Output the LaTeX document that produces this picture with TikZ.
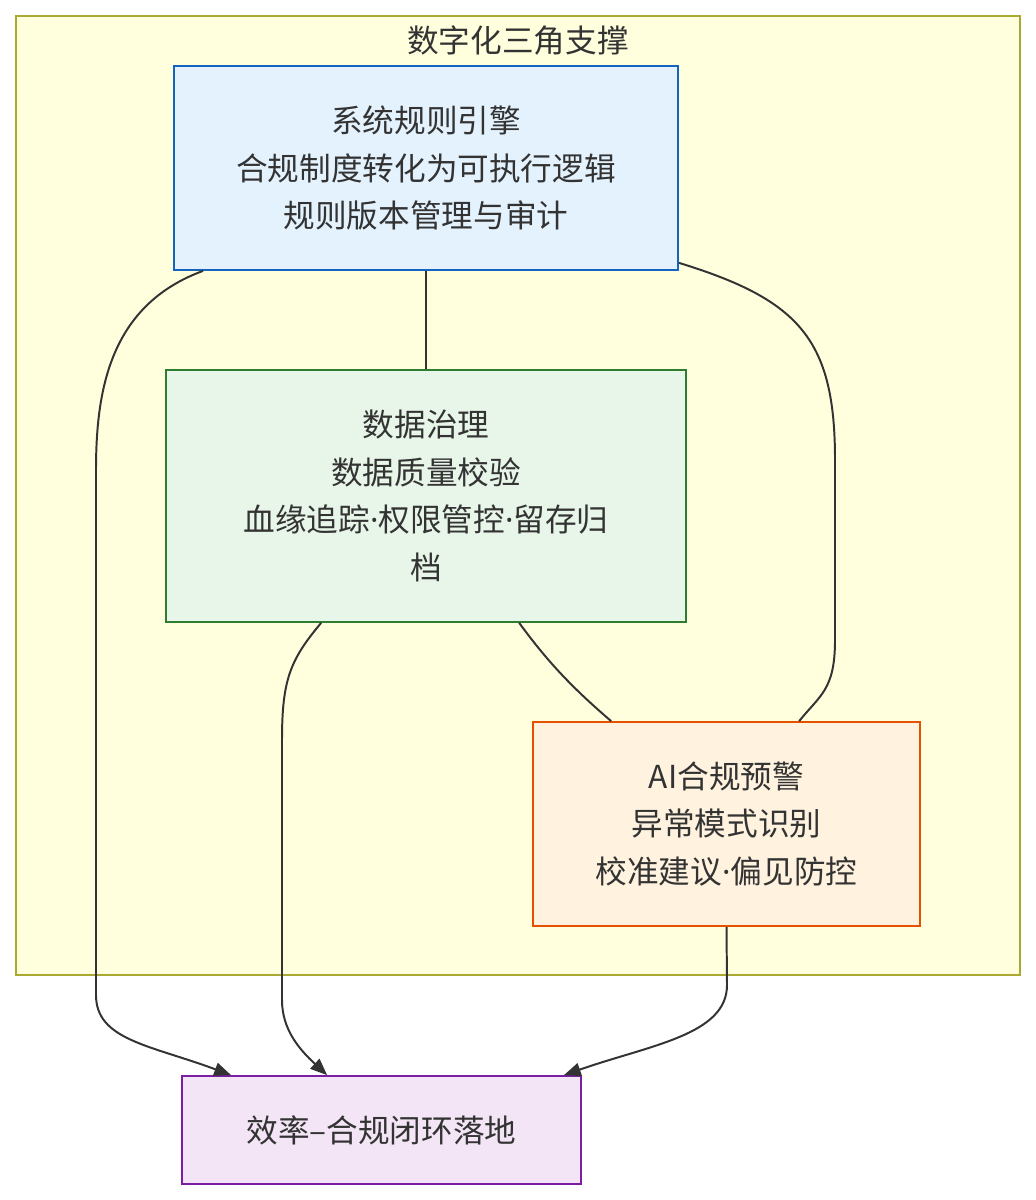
\documentclass[tikz,border=0pt]{standalone}
\usepackage{fontspec}
\setmainfont{Noto Sans CJK SC}
\newfontfamily\latinfont{Noto Sans}
\usetikzlibrary{arrows.meta,positioning}

\definecolor{textgray}{HTML}{333333}
\definecolor{clusterfill}{HTML}{FFFFDE}
\definecolor{clusterline}{HTML}{AAAA33}
\newcommand{\middot}{{\latinfont ·}}

\begin{document}
\begin{tikzpicture}[x=0.025cm, y=-0.025cm, >={Triangle[length=12pt,width=9.5pt]},
    box/.style={draw, line width=1.2pt, align=center, text=textgray, inner sep=0pt,
        font=\fontsize{22.5}{34}\selectfont},
    link/.style={draw=textgray, line width=1.4pt}]
    % 画布与外框
    \useasboundingbox (0,0) rectangle (1035,1200);
    \fill[white] (0,0) rectangle (1035,1200);
    \draw[fill=clusterfill, draw=clusterline, line width=1.2pt] (16,16) rectangle (1020,975);
    \node[text=textgray, font=\fontsize{22.5}{34}\selectfont] (title) at (518,40) {数字化三角支撑};

    % 三个支撑模块
    \node[box, fill={rgb,255:red,227;green,242;blue,253}, draw={rgb,255:red,21;green,101;blue,192},
        minimum width=12.6cm, minimum height=5.1cm] (rules) at (426,168)
        {系统规则引擎\\合规制度转化为可执行逻辑\\规则版本管理与审计};
    \node[box, fill={rgb,255:red,232;green,245;blue,233}, draw={rgb,255:red,46;green,125;blue,50},
        minimum width=13cm, minimum height=6.3cm] (data) at (426,496)
        {数据治理\\数据质量校验\\血缘追踪\middot 权限管控\middot 留存归\\档};
    \node[box, fill={rgb,255:red,255;green,243;blue,224}, draw={rgb,255:red,230;green,81;blue,0},
        minimum width=9.675cm, minimum height=5.1cm] (ai) at (726.5,824)
        {AI合规预警\\异常模式识别\\校准建议\middot 偏见防控};

    % 落地目标
    \node[box, fill={rgb,255:red,243;green,229;blue,245}, draw={rgb,255:red,123;green,31;blue,162},
        minimum width=9.975cm, minimum height=2.7cm] (goal) at (381.5,1130)
        {效率–合规闭环落地};

    % 连线
    \draw[link] (rules.south) -- (data.north);
    \draw[link, ->] ([xshift=0.75cm]rules.south west) .. controls (110,305) and (96,390) .. (96,470)
        -- (96,995) .. controls (96,1040) and (150,1045) .. ([xshift=1.25cm]goal.north west);
    \draw[link] ([yshift=0.2cm]rules.south east) .. controls (800,300) and (835,340) .. (835,460)
        -- (835,640) .. controls (835,690) and (820,695) .. ([xshift=6.675cm]ai.north west);
    \draw[link, ->] ([xshift=3.9cm]data.south west) .. controls (290,660) and (282,680) .. (282,740)
        -- (282,1000) .. controls (282,1030) and (300,1050) .. ([xshift=3.65cm]goal.north west);
    \draw[link] ([xshift=8.85cm]data.south west) .. controls (550,665) and (575,690) .. ([xshift=1.975cm]ai.north west);
    \draw[link, ->] (ai.south) -- (727,985) .. controls (727,1035) and (650,1045) .. ([xshift=-0.45cm]goal.north east);
\end{tikzpicture}
\end{document}
